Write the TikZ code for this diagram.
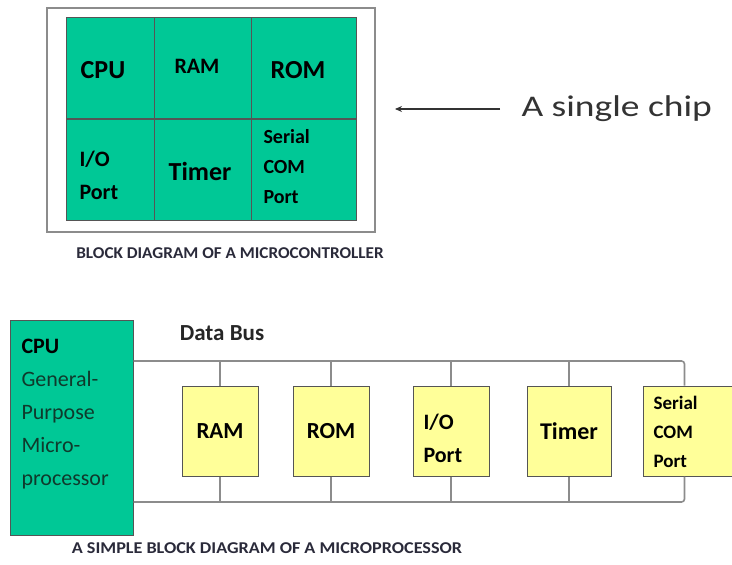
\documentclass[tikz,border=0pt]{standalone}
\usepackage{fontspec}
\setmainfont{Carlito}
\usetikzlibrary{arrows.meta,calc}
\definecolor{chipgreen}{HTML}{00C896}
\definecolor{yel}{HTML}{FFFF99}
\definecolor{busgray}{HTML}{8C8C8C}
\definecolor{boxedge}{HTML}{555555}
\definecolor{txtgreen}{HTML}{0F3A2C}
\definecolor{captxt}{HTML}{2A2A3A}
\begin{document}
\begin{tikzpicture}[x=1pt,y=-1pt,
  cell/.style={draw=boxedge,line width=0.9pt,fill=chipgreen,minimum height=101pt,inner sep=0pt},
  ybox/.style={draw=boxedge,line width=1pt,fill=yel,minimum height=90pt,inner sep=0pt},
  bus/.style={draw=busgray,line width=1.6pt},
  bigtxt/.style={font=\fontsize{26}{30}\selectfont\bfseries},
  smalltxt/.style={font=\fontsize{22}{33}\selectfont\bfseries,align=left},
  captext/.style={font=\fontsize{16.5}{18}\selectfont\bfseries,text=captxt}]
\useasboundingbox (0,0) rectangle (732,565);
\clip (0,0) rectangle (732,565);

% ---------- microcontroller ----------
\node[draw=black!45,line width=1.2pt,minimum width=328pt,minimum height=224pt,inner sep=0pt] (chipframe) at (211,120) {};
\node[cell,minimum width=88pt] (c1) at (110,68) {};
\node[cell,minimum width=97pt] (c2) at (202.5,68) {};
\node[cell,minimum width=105pt] (c3) at (303.5,68) {};
\node[cell,minimum width=88pt] (c4) at (110,169.5) {};
\node[cell,minimum width=97pt] (c5) at (202.5,169.5) {};
\node[cell,minimum width=105pt] (c6) at (303.5,169.5) {};

\node[bigtxt] (tcpu) at (103,70) {CPU};
\node[font=\fontsize{22}{26}\selectfont\bfseries] (tram) at (197,66) {RAM};
\node[bigtxt] (trom) at (298,70) {ROM};
\node[smalltxt,anchor=west] (tio) at (76,175) {I/O\\Port};
\node[bigtxt] (ttimer) at (200,171) {Timer};
\node[font=\fontsize{20}{30}\selectfont\bfseries,align=left,anchor=west] (tser) at (260,167) {Serial\\COM\\Port};

\node[font=\fontsize{30}{34}\selectfont,text=black!80,anchor=west] (chip) at (518,109) {\scalebox{1.25}[1]{A single chip}};
\coordinate (arrs) at (500,109);
\coordinate (arre) at (395,109);
\draw[black!80,line width=1.1pt,-{Stealth[length=7pt,width=6pt]}] (arrs) -- (arre);

\node[captext] (cap1) at (230,253) {\scalebox{1.04}[1]{BLOCK DIAGRAM OF A MICROCONTROLLER}};

% ---------- microprocessor ----------
\node[draw=boxedge,line width=1pt,fill=chipgreen,minimum width=123pt,minimum height=215pt,inner sep=0pt] (cpu) at (71.5,427.5) {};
\node[font=\fontsize{22}{33}\selectfont,align=left,anchor=west,text=txtgreen] (cputxt) at (18,414)
  {\textcolor{black}{\bfseries CPU}\\General-\\Purpose\\Micro-\\processor};
\node[font=\fontsize{23}{26}\selectfont\bfseries,text=black!85] (databus) at (222,333) {Data Bus};

\node[ybox,minimum width=76pt,font=\fontsize{23}{26}\selectfont\bfseries] (ram) at (220,431) {RAM};
\node[ybox,minimum width=76pt,font=\fontsize{23}{26}\selectfont\bfseries] (rom) at (331,431) {ROM};
\node[ybox,minimum width=76pt] (io) at (451,431) {};
\node[ybox,minimum width=84pt,font=\fontsize{24}{26}\selectfont\bfseries] (timer) at (569,431) {Timer};
\node[ybox,minimum width=94pt] (ser) at (690,431) {};
\node[font=\fontsize{22}{33}\selectfont\bfseries,align=left,anchor=west] (iotxt) at (420,438) {I/O\\Port};
\node[font=\fontsize{19}{29}\selectfont\bfseries,align=left,anchor=west] (sertxt) at (650,432) {Serial\\COM\\Port};

\coordinate (busT) at (0,361);
\coordinate (busB) at (0,502);
\coordinate (serN) at ($(ser.north west)+(42,0)$);
\coordinate (serS) at ($(ser.south west)+(42,0)$);
\draw[bus,rounded corners=3pt] (cpu.east |- busT) -- (serN |- busT) -- (serN);
\draw[bus,rounded corners=3pt] (cpu.east |- busB) -- (serS |- busB) -- (serS);
\foreach \b in {ram,rom,io,timer}{
  \draw[bus] (\b.north) -- (\b.north |- busT);
  \draw[bus] (\b.south) -- (\b.south |- busB);
}

\node[captext] (cap2) at (267,548) {\scalebox{1.10}[1]{A SIMPLE BLOCK DIAGRAM OF A MICROPROCESSOR}};
\end{tikzpicture}
\end{document}
